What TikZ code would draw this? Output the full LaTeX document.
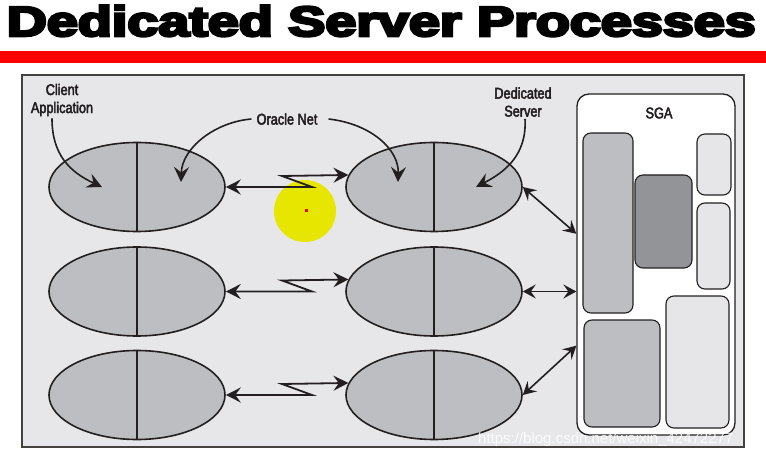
\documentclass[tikz,border=0pt]{standalone}
\usepackage{fontspec}
\setmainfont{Liberation Sans}
\newfontfamily\titlefont{Liberation Sans Bold}[FakeBold=6]
\newfontfamily\labelfont{Liberation Sans}[FakeStretch=0.82,FakeBold=3]
\usetikzlibrary{shapes.geometric,arrows.meta}
\definecolor{ink}{HTML}{231F20}
\definecolor{panelfill}{HTML}{E7E7E9}
\definecolor{ellfill}{HTML}{BDBEC1}
\definecolor{darkfill}{HTML}{939497}
\definecolor{lightfill}{HTML}{E6E6E8}
\definecolor{hilite}{HTML}{E6E600}
\begin{document}
\begin{tikzpicture}[x=1pt,y=-1pt,
  tip/.tip={Stealth[length=15pt,width=15pt,inset=5.5pt]},
  stip/.tip={Stealth[length=13pt,width=14pt,inset=5pt]},
  ell/.style={ellipse, draw=ink, fill=ellfill, line width=1.6pt,
    minimum width=176pt, minimum height=89pt, inner sep=0pt},
  divider/.style={draw=ink, line width=1.6pt},
  biarrow/.style={draw=ink, line width=1.8pt, tip-tip},
  sgaarrow/.style={draw=ink, line width=1.6pt, stip-stip},
  curvearrow/.style={draw=ink, line width=1.6pt, -tip},
  lbl/.style={font=\labelfont\fontsize{15.5}{18}\selectfont, align=center, inner sep=0pt, text=ink},
  box/.style={draw=ink, line width=1.1pt, rounded corners=8pt},
]
\useasboundingbox (0,0) rectangle (766,457);
% title and bar
\node[anchor=base west, inner sep=0pt] (title) at (6.5,36)
  {\resizebox{749pt}{30.5pt}{\titlefont Dedicated Server Processes}};
\fill[red] (0,51) rectangle (766,63);
% panel
\draw[draw=ink!85, line width=1.5pt, fill=panelfill] (22,75) rectangle (744,447);
% highlight
\fill[hilite] (305,211) circle[radius=31pt];
\fill[red] (304.5,209.5) rectangle (307.5,212.5);
% SGA
\node[draw=ink, fill=white, line width=1.3pt, rounded corners=12pt,
  minimum width=158pt, minimum height=341pt, inner sep=0pt] (sga) at (656,264.5) {};
\node[lbl, anchor=center] (sgat) at (659,113) {SGA};
\draw[box, fill=ellfill] (583,133) rectangle (633,313);
\draw[box, fill=darkfill] (635,175) rectangle (692,268);
\draw[box, fill=lightfill] (697,134) rectangle (731,195);
\draw[box, fill=lightfill] (697,203) rectangle (730,289);
\draw[box, fill=ellfill] (584,320) rectangle (660,427);
\draw[box, fill=lightfill] (666,296) rectangle (729,428);
% ellipses
\foreach \n/\x/\y in {c1/137/187, c2/137/291.5, c3/137/395, s1/434/187, s2/434/291.5, s3/434/395}{
  \node[ell] (\n) at (\x,\y) {};
  \draw[divider] (\n.north) -- (\n.south);
}
% Oracle Net links
\foreach \r/\y in {1/187, 2/291.5, 3/395}{
  \coordinate (za\r) at (312,\y);
  \coordinate (zb\r) at (282,\y-11);
  \draw[biarrow] (c\r.east) -- (za\r) -- (zb\r) -- (s\r.172.5);
}
% server to SGA
\draw[sgaarrow] (s1.east) -- ([yshift=-1.5pt]sga.west |- s1.south);
\draw[sgaarrow] (s2.east) -- (sga.west |- s2.east);
\draw[sgaarrow] (s3.east) -- ([yshift=4pt]sga.west |- s3.north);
% labels
\node[lbl] (tclient) at (62,100) {Client\\Application};
\node[lbl] (tnet) at (287,119) {Oracle Net};
\node[lbl] (tserver) at (523,102) {Dedicated\\Server};
\draw[curvearrow] ([xshift=-10pt,yshift=-2pt]tclient.south) .. controls (52,155) and (70,172) .. (102,187);
\draw[curvearrow] ([xshift=-5pt]tnet.west) .. controls (215,122) and (182,148) .. (181,182);
\draw[curvearrow] ([xshift=11pt]tnet.east) .. controls (372,124) and (399,150) .. (398,182);
\draw[curvearrow] ([xshift=2pt,yshift=-2pt]tserver.south) .. controls (527,155) and (505,172) .. (476,187);
% watermark
\node[anchor=base west, inner sep=0pt, text=white, opacity=0.85,
  font=\fontsize{15}{18}\selectfont] (wm) at (478,443) {https://blog.csdn.net/weixin\_42472277};
\end{tikzpicture}
\end{document}
